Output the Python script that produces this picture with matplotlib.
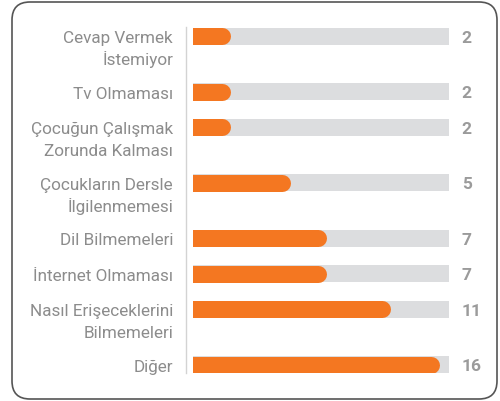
import matplotlib.pyplot as plt
from matplotlib.patches import FancyBboxPatch

plt.rcParams['font.family'] = ['Roboto', 'DejaVu Sans']

# Data
labels = [
    "Cevap Vermek\nİstemiyor",
    "Tv Olmaması",
    "Çocuğun Çalışmak\nZorunda Kalması",
    "Çocukların Dersle\nİlgilenmemesi",
    "Dil Bilmemeleri",
    "İnternet Olmaması",
    "Nasıl Erişeceklerini\nBilmemeleri",
    "Diğer",
]
values = [2, 2, 2, 5, 7, 7, 11, 16]
# bar length as share of the grey track (0-100), as drawn in the picture
bar_share = [14.8, 14.8, 14.8, 37.9, 52.3, 52.3, 77.3, 96.1]

orange = '#f47721'
track = '#dcdddf'
label_col = '#8c8c8c'
value_col = '#9b9b9b'

W, H, DPI = 5.0, 4.02, 100
fig = plt.figure(figsize=(W, H), dpi=DPI)

# axes placed in pixel terms: track from x=193 to 449, rows from y=28 to 374
left_px, right_px, top_px, bot_px = 193, 449, 28, 374
ax = fig.add_axes([left_px / 500, 1 - bot_px / 402,
                   (right_px - left_px) / 500, (bot_px - top_px) / 402])

# row positions: two-line labels take more room
pos = []
y = 0.0
for lab in labels:
    pos.append(y)
    y += 55.5 if '\n' in lab else 35.5

ax.set_xlim(0, 100)
ax.set_ylim(pos[-1] + 8.5, pos[0] - 9.5)
ax.axis('off')

bar_h = 17  # px, same as data units on y
px_per_unit = (right_px - left_px) / 100
r_data = (bar_h / 2) / px_per_unit
lw_pt = bar_h * 72 / DPI

for p, share, v, lab in zip(pos, bar_share, values, labels):
    ax.barh(p, 100, height=bar_h, color=track, left=0)
    ax.plot([-10, share - r_data], [p, p], color=orange, lw=lw_pt,
            solid_capstyle='round')
    ax.text(105, p + 5.5, str(v), ha='left', va='baseline',
            fontsize=12.5, fontweight='bold', color=value_col, clip_on=False)
    for k, line in enumerate(lab.split('\n')):
        ax.text(-7.8, p + 6 + k * 22, line, ha='right', va='baseline',
                fontsize=12.3, color=label_col, clip_on=False)

ax.axvline(-2.7, color='#d3d3d3', lw=1, clip_on=False)

# rounded frame around the chart
frame = FancyBboxPatch((0.12, 0.02), 4.85, 3.97,
                       boxstyle='round,pad=0,rounding_size=0.18',
                       transform=fig.dpi_scale_trans, fill=False,
                       edgecolor='#555555', lw=1.2)
fig.patches.append(frame)

fig.savefig('out.png', dpi=DPI)
